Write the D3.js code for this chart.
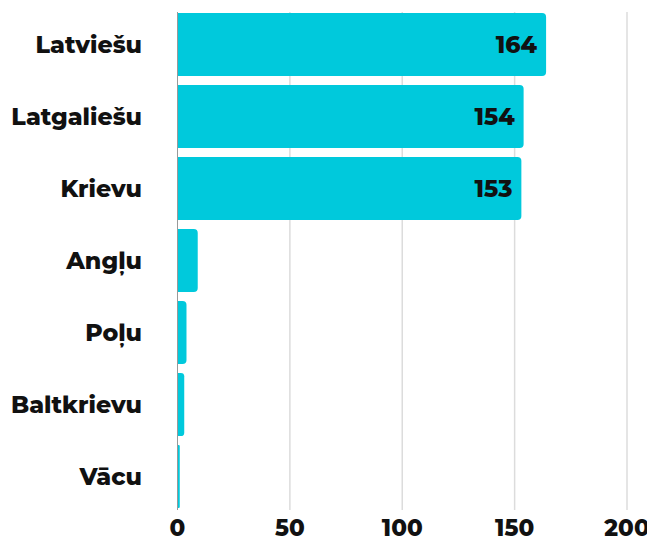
<!DOCTYPE html>
<html>
<head>
<meta charset="utf-8">
<script src="https://cdn.jsdelivr.net/npm/d3@7"></script>
<style>
  body { margin: 0; background: #fff; }
  text { font-family: Montserrat, "DejaVu Sans", sans-serif; font-weight: 800; }
</style>
</head>
<body>
<div id="chart"></div>
<script>
const languages = ["Latviešu", "Latgaliešu", "Krievu", "Angļu", "Poļu", "Baltkrievu", "Vācu"];
const counts = [164, 154, 153, 9, 4, 3, 1];
const ticks = [0, 50, 100, 150, 200];

const width = 647, height = 541;
const margin = {top: 4, right: 20, bottom: 24, left: 177.5};

const svg = d3.select("#chart").append("svg")
    .attr("width", width)
    .attr("height", height);

const x = d3.scaleLinear().domain([0, 200]).range([margin.left, 627]);
const y = d3.scaleBand().domain(languages).range([margin.top, height - margin.bottom]).padding(0.125);

// grid
svg.append("g")
    .selectAll("line")
    .data(ticks.slice(1))
    .enter()
    .append("line")
    .attr("x1", d => x(d)).attr("x2", d => x(d))
    .attr("y1", 12).attr("y2", 510)
    .style("stroke", "#dcdcdc")
    .style("stroke-width", 1.5);

// bars with rounded right ends
const r = 4;
svg.append("g")
    .selectAll("path")
    .data(languages)
    .enter()
    .append("path")
    .attr("d", (d, i) => {
        const x0 = x(0), x1 = x(counts[i]), y0 = y(d), h = y.bandwidth();
        const rr = Math.min(r, (x1 - x0) / 2);
        return `M${x0},${y0}H${x1 - rr}Q${x1},${y0} ${x1},${y0 + rr}V${y0 + h - rr}Q${x1},${y0 + h} ${x1 - rr},${y0 + h}H${x0}Z`;
    })
    .style("fill", "#00c9dc");

// axis line at zero
svg.append("line")
    .attr("x1", x(0)).attr("x2", x(0))
    .attr("y1", 12).attr("y2", 510)
    .style("stroke", "#999")
    .style("stroke-width", 1);

// category labels
svg.append("g")
    .selectAll("text")
    .data(languages)
    .enter()
    .append("text")
    .attr("x", 142)
    .attr("y", d => y(d) + y.bandwidth() / 2)
    .attr("dy", "0.35em")
    .attr("text-anchor", "end")
    .style("font-size", "23.7px")
    .style("fill", "#111")
    .text(d => d);

// value labels
svg.append("g")
    .selectAll("text")
    .data(languages.filter((d, i) => counts[i] > 50))
    .enter()
    .append("text")
    .attr("x", d => x(counts[languages.indexOf(d)]) - 9)
    .attr("y", d => y(d) + y.bandwidth() / 2)
    .attr("dy", "0.35em")
    .attr("text-anchor", "end")
    .style("font-size", "23.5px")
    .style("fill", "#111")
    .text(d => counts[languages.indexOf(d)]);

// tick labels
svg.append("g")
    .selectAll("text")
    .data(ticks)
    .enter()
    .append("text")
    .attr("x", d => x(d))
    .attr("y", 528)
    .attr("dy", "0.35em")
    .attr("text-anchor", "middle")
    .style("font-size", "23px")
    .style("fill", "#111")
    .text(d => d);
</script>
</body>
</html>
